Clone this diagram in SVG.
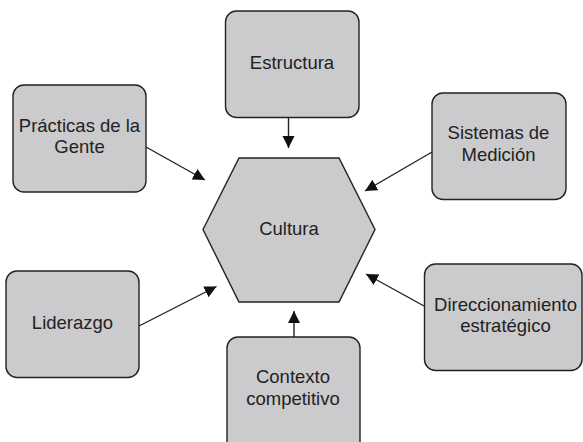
<svg xmlns="http://www.w3.org/2000/svg" width="583" height="442" viewBox="0 0 583 442">
<style>
.box{fill:#cbcbcd;stroke:#222;stroke-width:1.4}
.lbl{font-family:"Liberation Sans",Arial,sans-serif;font-size:18.5px;fill:#222;text-anchor:middle}
.con{stroke:#222;stroke-width:1.4;fill:none;marker-end:url(#ah)}
</style>
<defs>
<marker id="ah" markerUnits="userSpaceOnUse" markerWidth="13" markerHeight="13" refX="12" refY="6" orient="auto">
<path d="M0,0 L12,6 L0,12 z" fill="#111"/>
</marker>
</defs>
<rect width="583" height="442" fill="#fff"/>
<g id="connectors">
<line class="con" x1="288.5" y1="117" x2="288.5" y2="148"/>
<line class="con" x1="146" y1="147" x2="205" y2="180"/>
<line class="con" x1="432" y1="152" x2="365" y2="191"/>
<line class="con" x1="139" y1="326" x2="216.5" y2="286.5"/>
<line class="con" x1="424" y1="306" x2="366" y2="274"/>
<line class="con" x1="294" y1="337" x2="294" y2="311"/>
</g>
<g id="cultura">
<polygon class="box" points="203,229.5 239,158 339,158 375,229.5 339,302 239,302"/>
<text class="lbl" x="289" y="234.5">Cultura</text>
</g>
<g id="estructura">
<rect class="box" x="225.5" y="11" width="133.5" height="106.5" rx="11"/>
<text class="lbl" x="292" y="68.5">Estructura</text>
</g>
<g id="practicas">
<rect class="box" x="13" y="85" width="133" height="107" rx="11"/>
<text class="lbl" x="79.5" y="131.5">Prácticas de la</text>
<text class="lbl" x="79.5" y="153">Gente</text>
</g>
<g id="sistemas">
<rect class="box" x="432" y="93" width="134" height="106.5" rx="11"/>
<text class="lbl" x="498.5" y="139">Sistemas de</text>
<text class="lbl" x="498.5" y="161">Medición</text>
</g>
<g id="liderazgo">
<rect class="box" x="6" y="271" width="133" height="106.5" rx="11"/>
<text class="lbl" x="72.5" y="328.5">Liderazgo</text>
</g>
<g id="direccionamiento">
<rect class="box" x="424.5" y="264" width="157.5" height="106.5" rx="11"/>
<text class="lbl" x="505.5" y="310.5">Direccionamiento</text>
<text class="lbl" x="505.5" y="332">estratégico</text>
</g>
<g id="contexto">
<rect class="box" x="227" y="337" width="133" height="115" rx="11"/>
<text class="lbl" x="293" y="383">Contexto</text>
<text class="lbl" x="293" y="405">competitivo</text>
</g>
</svg>
